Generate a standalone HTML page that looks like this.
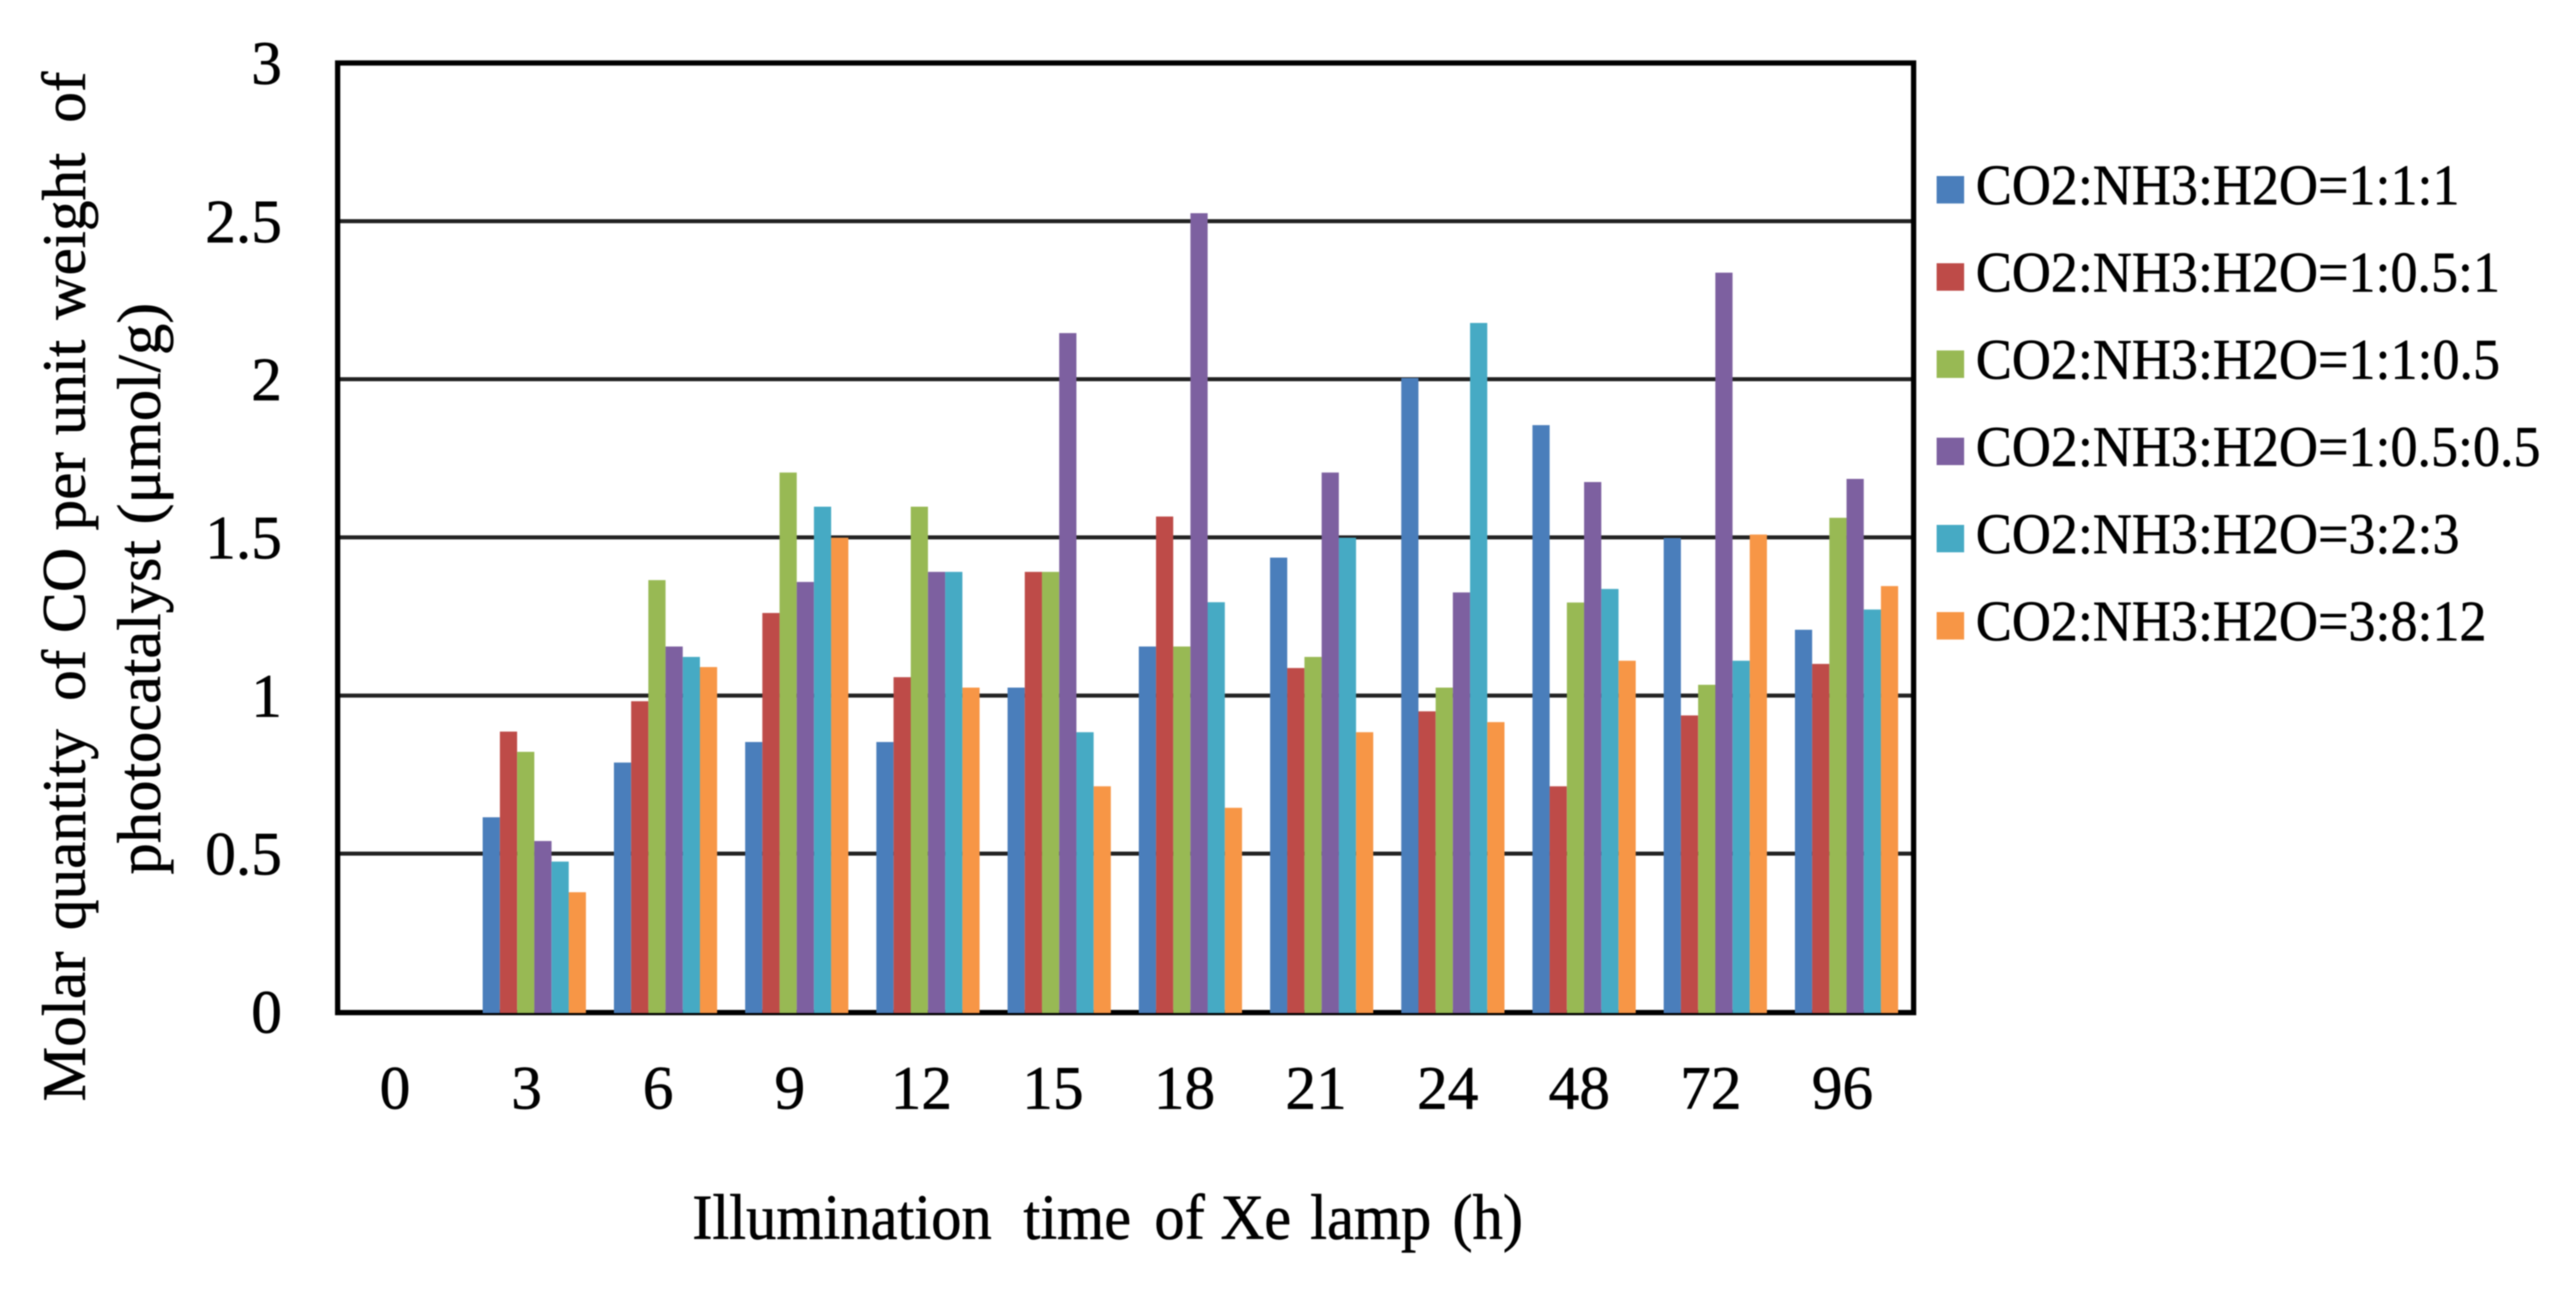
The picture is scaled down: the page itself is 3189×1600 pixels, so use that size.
<!DOCTYPE html>
<html lang="en">
<head>
<meta charset="utf-8">
<title>Molar quantity of CO per unit weight of photocatalyst</title>
<style>
  html, body { margin: 0; padding: 0; background: #fff; }
  body { width: 3189px; height: 1600px; overflow: hidden; }
  #chart { display: block; filter: blur(0.9px); }
  text { font-family: "Liberation Serif", serif; fill: #000; stroke: #000; stroke-width: 0.7px; white-space: pre; }
</style>
</head>
<body>
<svg id="chart" width="3189" height="1600" viewBox="0 0 3189 1600" xmlns="http://www.w3.org/2000/svg">
  <rect x="0" y="0" width="3189" height="1600" fill="#fff"/>
  <g id="grid"></g>
  <g id="frame"></g>
  <g id="bars"></g>
  <g id="yticks"></g>
  <g id="xticks"></g>
  <g id="legend"></g>
  <g>
    <text transform="translate(105,1364) rotate(-90)" font-size="76"><tspan x="0">Molar</tspan> <tspan x="212">quantity</tspan> <tspan x="496">of</tspan> <tspan x="580">CO</tspan> <tspan x="707">per</tspan> <tspan x="825">unit</tspan> <tspan x="968">weight</tspan> <tspan x="1212">of</tspan></text>
    <text transform="translate(198,1083) rotate(-90)" font-size="76" textLength="708" lengthAdjust="spacingAndGlyphs">photocatalyst (μmol/g)</text>
  </g>
  <text transform="translate(0,1534) scale(1,1.06)" font-size="75"><tspan x="857">Illumination</tspan> <tspan x="1267">time</tspan> <tspan x="1429">of</tspan> <tspan x="1511">Xe</tspan> <tspan x="1622">lamp</tspan> <tspan x="1798">(h)</tspan></text>
</svg>
<script>
const categories = ['0','3','6','9','12','15','18','21','24','48','72','96'];
const yTicks = [0, 0.5, 1, 1.5, 2, 2.5, 3];
const seriesNames = [
  'CO2:NH3:H2O=1:1:1',
  'CO2:NH3:H2O=1:0.5:1',
  'CO2:NH3:H2O=1:1:0.5',
  'CO2:NH3:H2O=1:0.5:0.5',
  'CO2:NH3:H2O=3:2:3',
  'CO2:NH3:H2O=3:8:12'
];
const seriesColors = ['#4a7ebb','#be4b48','#98b954','#7d60a0','#46aac4','#f79646'];
const ratio111 = [0, 0.615, 0.788, 0.853, 0.853, 1.025, 1.155, 1.436, 2.004, 1.855, 1.498, 1.208];
const ratio1051 = [0, 0.886, 0.982, 1.261, 1.058, 1.391, 1.566, 1.087, 0.950, 0.713, 0.937, 1.100];
const ratio1105 = [0, 0.822, 1.365, 1.705, 1.597, 1.391, 1.155, 1.122, 1.025, 1.294, 1.034, 1.562];
const ratio10505 = [0, 0.540, 1.155, 1.359, 1.391, 2.146, 2.525, 1.705, 1.326, 1.675, 2.337, 1.685];
const ratio323 = [0, 0.475, 1.122, 1.597, 1.391, 0.884, 1.295, 1.499, 2.178, 1.337, 1.110, 1.272];
const ratio3812 = [0, 0.378, 1.090, 1.499, 1.025, 0.713, 0.645, 0.884, 0.916, 1.110, 1.509, 1.346];
const seriesValues = [ratio111, ratio1051, ratio1105, ratio10505, ratio323, ratio3812];

const NS = 'http://www.w3.org/2000/svg';
const plotLeft = 418, plotRight = 2369, plotTop = 78, plotBottom = 1253;
const yMax = 3;
const band = 162.45, firstCenter = 499, barW = 21.3;
function yScale(v) { return plotBottom - (v / yMax) * (plotBottom - plotTop); }
function xCenter(i) { return firstCenter + i * band; }
function xLabel(i) { return 489 + i * 162.9; }
function mk(tag, parent, attrs) {
  const el = document.createElementNS(NS, tag);
  for (const k in attrs) el.setAttribute(k, attrs[k]);
  parent.appendChild(el);
  return el;
}

const gridG = document.getElementById('grid');
yTicks.forEach(function (t) {
  if (t === 0 || t === yMax) return;
  const l = mk('line', gridG, { x1: plotLeft, x2: plotRight, y1: yScale(t), y2: yScale(t), stroke: '#222', 'stroke-width': 5 });
  
  
});

const frameG = document.getElementById('frame');
const frameRect = mk('rect', frameG, { x: plotLeft, y: plotTop, width: plotRight - plotLeft, height: plotBottom + 1 - plotTop, fill: 'none', stroke: '#000', 'stroke-width': 6.5 });



const barsG = document.getElementById('bars');
seriesValues.forEach(function (vals, s) {
  vals.forEach(function (v, i) {
    if (v <= 0) return;
    const left = xCenter(i) - barW * seriesValues.length / 2 + s * barW;
    const top = yScale(v);
    const r = mk('rect', barsG, { x: left, y: top, width: barW, height: yScale(0) + 1.5 - top, fill: seriesColors[s] });
    
    
  });
});

const yG = document.getElementById('yticks');
yTicks.forEach(function (t) {
  const el = mk('text', yG, { x: 349, y: yScale(t) + 26, 'font-size': 76, 'text-anchor': 'end' });
  el.textContent = String(t);
  
  
});

const xG = document.getElementById('xticks');
categories.forEach(function (c, i) {
  const el = mk('text', xG, { x: xLabel(i), y: 1373, 'font-size': 76, 'text-anchor': 'middle' });
  el.textContent = c;
  
  
});

const legendG = document.getElementById('legend');
seriesNames.forEach(function (name, s) {
  const baseY = 253 + s * 108;
  const sw = mk('rect', legendG, { x: 2397.5, y: baseY - 35, width: 34, height: 34, fill: seriesColors[s] });
  
  
  const tx = mk('text', legendG, { transform: 'translate(2446,' + baseY + ') scale(0.942,1)', 'font-size': 71 });
  tx.textContent = name;
  
  
});
</script>
</body>
</html>
